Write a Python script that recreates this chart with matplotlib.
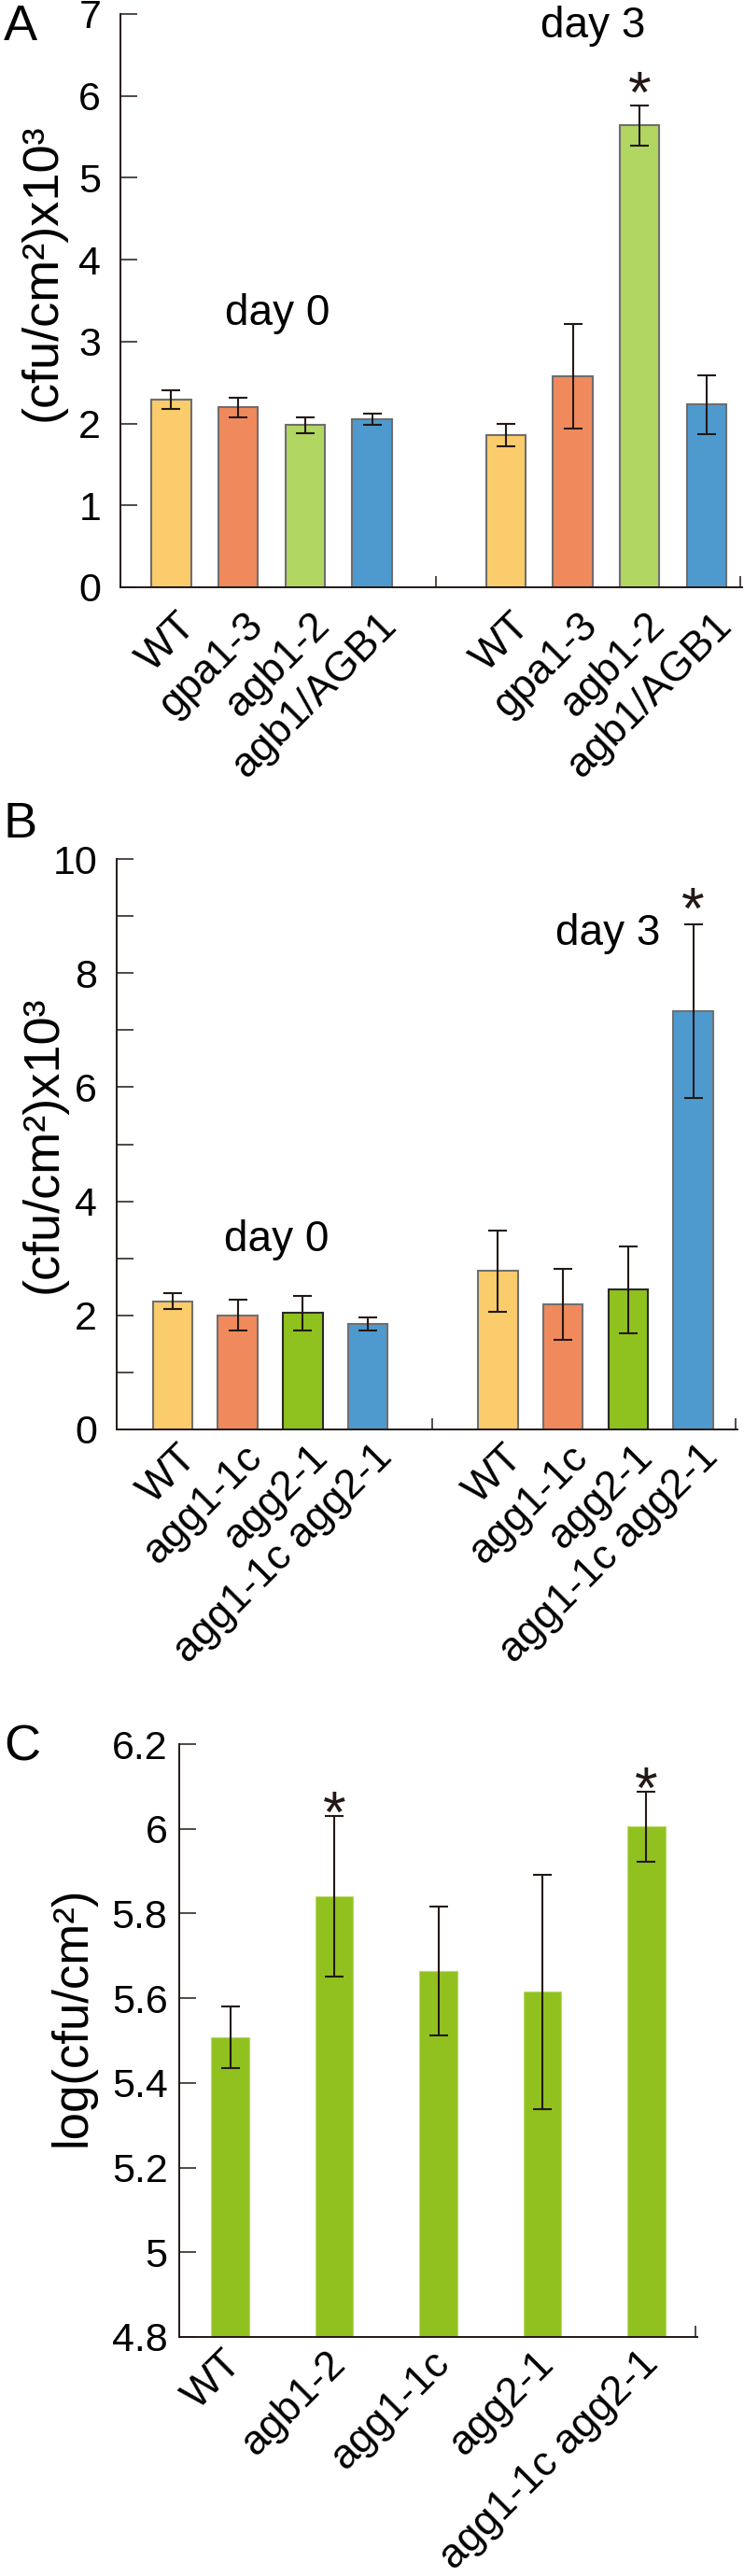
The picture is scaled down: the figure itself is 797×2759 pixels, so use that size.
import numpy as np
import matplotlib
matplotlib.use('Agg')
from matplotlib import pyplot as plt
from matplotlib.ticker import MultipleLocator, FuncFormatter
from matplotlib.transforms import ScaledTranslation
from matplotlib.textpath import TextPath
from matplotlib.font_manager import FontProperties

plt.rcParams['font.family'] = ['Liberation Sans', 'DejaVu Sans']

# panel A
a_labels = ['WT', 'gpa1-3', 'agb1-2', 'agb1/AGB1']
a_day0 = [2.29, 2.20, 1.98, 2.05]
a_day0_err = [0.11, 0.12, 0.10, 0.07]
a_day3 = [1.86, 2.58, 5.64, 2.23]
a_day3_err = [0.14, 0.64, 0.245, 0.355]

# panel B
b_labels = ['WT', 'agg1-1c', 'agg2-1', 'agg1-1c agg2-1']
b_day0 = [2.25, 2.00, 2.04, 1.85]
b_day0_err = [0.145, 0.27, 0.30, 0.12]
b_day3 = [2.78, 2.19, 2.45, 7.33]
b_day3_err = [0.71, 0.62, 0.76, 1.52]

# panel C
c_labels = ['WT', 'agb1-2', 'agg1-1c', 'agg2-1', 'agg1-1c agg2-1']
c_log = [5.508, 5.840, 5.664, 5.615, 6.005]
c_err = [0.072, 0.19, 0.152, 0.276, 0.083]

INK = '#231815'
a_colors = ['#FACC6B', '#F08A5C', '#B2D662', '#4E9ACE']
b_colors = ['#FACC6B', '#F08A5C', '#8FC21F', '#4E9ACE']
b_edges = ['#707070', '#707070', '#2a2a2a', '#707070']
c_color = '#91C11F'

W, H = 797, 2759
fig = plt.figure(figsize=(W / 100, H / 100), dpi=100)

# ink box of the asterisk, in em units, to size and centre the star marks
_star = TextPath((0, 0), '*', size=1, prop=FontProperties(family='Liberation Sans')).get_extents()
STAR_FS = 16.0 / _star.height          # ~22 px tall
STAR_MID = (_star.y0 + _star.y1) / 2 * STAR_FS


def axes_px(left, top, right, bottom):
    return fig.add_axes([left / W, 1 - bottom / H, (right - left) / W, (bottom - top) / H])


def style(ax, ypad, xpad):
    for s in ['top', 'right']:
        ax.spines[s].set_visible(False)
    for s in ['left', 'bottom']:
        ax.spines[s].set_linewidth(1.4)
        ax.spines[s].set_color(INK)
    ax.tick_params(axis='y', which='both', direction='in', length=13, width=1.1,
                   color=INK, labelsize=31, pad=ypad)
    ax.tick_params(axis='x', which='major', length=0, labelsize=32, pad=xpad)
    ax.tick_params(axis='x', which='minor', direction='in', length=9, width=1.1, color=INK)


def shift_labels(ax, dx):
    off = ScaledTranslation(dx / 100, 0, fig.dpi_scale_trans)
    for lab in ax.get_xticklabels():
        lab.set_transform(lab.get_transform() + off)
        lab.set_rotation(45)
        lab.set_ha('right')
        lab.set_va('center')
        lab.set_rotation_mode('anchor')


def star(ax, x, y, gap):
    # gap: points between error-bar top and the centre of the star
    ax.annotate('*', (x, y), xytext=(0, gap - STAR_MID), textcoords='offset points',
                ha='center', va='baseline', fontsize=STAR_FS, color=INK)


def grouped(ax, labels, d0, e0, d3, e3, colors, edges, width):
    x0 = np.arange(len(d0))
    x3 = x0 + 5
    for xs, vals, errs in [(x0, d0, e0), (x3, d3, e3)]:
        ax.bar(xs, vals, width, color=colors, edgecolor=edges, linewidth=1.5, zorder=2)
        ax.errorbar(xs, vals, yerr=errs, fmt='none', ecolor=INK, elinewidth=1.5,
                    capsize=7, capthick=1.5, zorder=3)
    ax.set_xticks(np.concatenate([x0, x3]), labels + labels)
    return x0, x3


# ---- A ----
axA = axes_px(129, 15, 795, 629)
x0, x3 = grouped(axA, a_labels, a_day0, a_day0_err, a_day3, a_day3_err,
                 a_colors, '#6E6E6E', 0.59)
axA.set_xlim(-0.76, 8.53)
axA.set_ylim(0, 7)
axA.yaxis.set_major_locator(MultipleLocator(1))
axA.set_xticks([3.96, 8.5], minor=True)
style(axA, 15, 25)
axA.set_ylabel('(cfu/cm²)x10³', fontsize=39)
axA.yaxis.set_label_coords(-0.087, 0.55)
axA.text(1.58, 3.2, 'day 0', fontsize=33, ha='center', va='baseline')
axA.text(6.3, 6.72, 'day 3', fontsize=33, ha='center', va='baseline')
star(axA, x3[2], a_day3[2] + a_day3_err[2], 18)
shift_labels(axA, 20)

# ---- B ----
axB = axes_px(125, 920, 790, 1531)
x0, x3 = grouped(axB, b_labels, b_day0, b_day0_err, b_day3, b_day3_err,
                 b_colors, b_edges, 0.61)
axB.set_xlim(-0.86, 8.68)
axB.set_ylim(0, 10)
axB.yaxis.set_major_locator(MultipleLocator(2))
axB.yaxis.set_minor_locator(MultipleLocator(1))
axB.set_xticks([3.99, 8.65], minor=True)
style(axB, 15, 17)
axB.set_ylabel('(cfu/cm²)x10³', fontsize=39)
axB.yaxis.set_label_coords(-0.081, 0.5)
axB.text(1.59, 3.12, 'day 0', fontsize=33, ha='center', va='baseline')
axB.text(6.69, 8.5, 'day 3', fontsize=33, ha='center', va='baseline')
star(axB, x3[3], b_day3[3] + b_day3_err[3], 21)
shift_labels(axB, 20)

# ---- C ----
axC = axes_px(192, 1868, 747, 2503)
xc = np.arange(len(c_log))
axC.bar(xc, c_log, 0.366, color=c_color, edgecolor='#B9DA6A', linewidth=0.8, zorder=2)
axC.errorbar(xc, c_log, yerr=c_err, fmt='none', ecolor=INK, elinewidth=1.5,
             capsize=7, capthick=1.5, zorder=3)
axC.set_xticks(xc, c_labels)
axC.set_xlim(-0.49, 4.49)
axC.set_ylim(4.8, 6.2)
axC.set_yticks(np.arange(4.8, 6.21, 0.2))
axC.yaxis.set_major_formatter(FuncFormatter(lambda v, p: f'{round(v, 1):g}'))
axC.set_xticks([4.47], minor=True)
style(axC, 9, 16)
axC.set_ylabel('log(cfu/cm²)', fontsize=38)
axC.yaxis.set_label_coords(-0.162, 0.54)
for i in [1, 4]:
    star(axC, xc[i], c_log[i] + c_err[i], 11)
shift_labels(axC, 6)

for letter, ybase in [('A', 43), ('B', 897), ('C', 1885)]:
    fig.text(4 / W, 1 - ybase / H, letter, fontsize=39, ha='left', va='baseline')

fig.savefig('out.png', dpi=100)
